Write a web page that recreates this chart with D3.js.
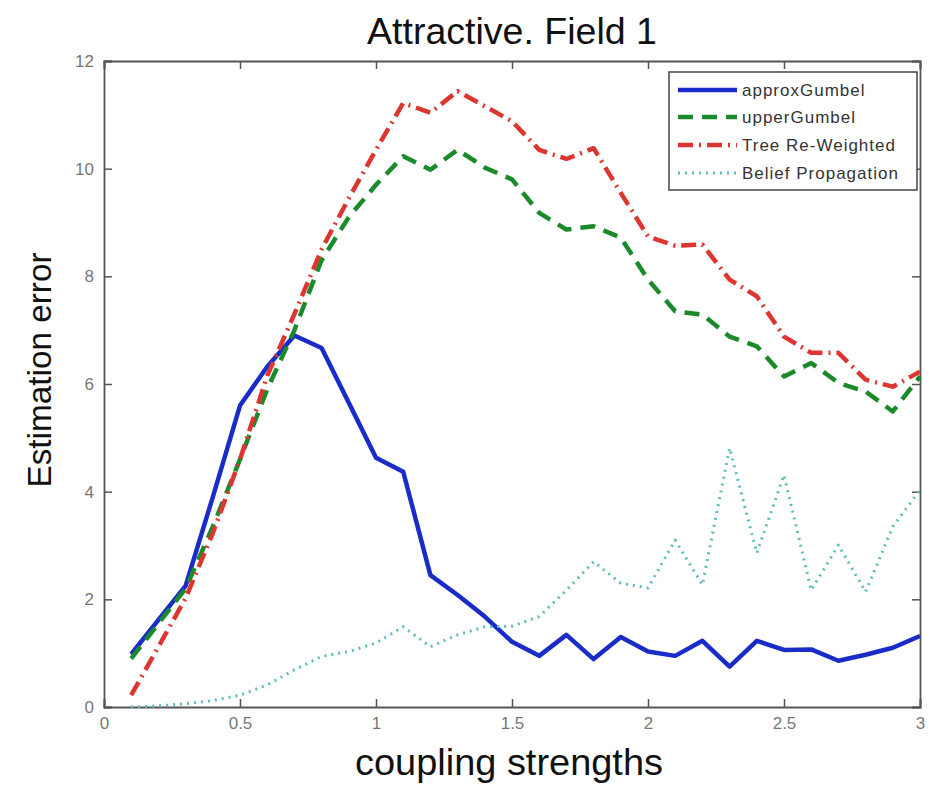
<!DOCTYPE html>
<html>
<head>
<meta charset="utf-8">
<script src="https://cdn.jsdelivr.net/npm/d3@7"></script>
<style>
  html, body { margin: 0; padding: 0; background: #fff; }
  svg { display: block; font-family: "Liberation Sans", Arial, Helvetica, sans-serif; }
</style>
</head>
<body>
<svg id="chart" width="936" height="786"></svg>
<script>
// ---- data ----
const couplings = [0.1, 0.2, 0.3, 0.4, 0.5, 0.6, 0.7, 0.8, 0.9, 1.0,
                   1.1, 1.2, 1.3, 1.4, 1.5, 1.6, 1.7, 1.8, 1.9, 2.0,
                   2.1, 2.2, 2.3, 2.4, 2.5, 2.6, 2.7, 2.8, 2.9, 3.0];
const approxGumbel = [0.98, 1.62, 2.25, 3.9, 5.6, 6.32, 6.9, 6.67, 5.65, 4.63,
                      4.37, 2.45, 2.08, 1.68, 1.21, 0.95, 1.34, 0.89, 1.30, 1.03,
                      0.95, 1.23, 0.75, 1.23, 1.06, 1.07, 0.86, 0.97, 1.10, 1.32];
const upperGumbel = [0.9, 1.55, 2.2, 3.35, 4.6, 5.9, 7.0, 8.3, 9.1, 9.7,
                     10.23, 9.98, 10.35, 10.02, 9.8, 9.18, 8.87, 8.93, 8.72, 7.94,
                     7.35, 7.29, 6.88, 6.7, 6.14, 6.39, 6.02, 5.86, 5.49, 6.14];
const treeReweighted = [0.22, 1.12, 2.02, 3.23, 4.6, 6.15, 7.3, 8.5, 9.45, 10.35,
                        11.22, 11.04, 11.44, 11.16, 10.88, 10.35, 10.18, 10.38, 9.55, 8.74,
                        8.57, 8.59, 7.94, 7.63, 6.88, 6.58, 6.58, 6.08, 5.95, 6.23];
const beliefPropagation = [0.0, 0.02, 0.06, 0.12, 0.22, 0.41, 0.69, 0.94, 1.03, 1.19,
                           1.49, 1.12, 1.34, 1.49, 1.5, 1.68, 2.17, 2.7, 2.3, 2.21,
                           3.1, 2.27, 4.81, 2.86, 4.31, 2.17, 3.01, 2.14, 3.35, 4.03];
const seriesNames = ["approxGumbel", "upperGumbel", "Tree Re-Weighted", "Belief Propagation"];
const xTicks = [0, 0.5, 1, 1.5, 2, 2.5, 3];
const yTicks = [0, 2, 4, 6, 8, 10, 12];
const titleText = "Attractive. Field 1";
const xLabelText = "coupling strengths";
const yLabelText = "Estimation error";

// ---- layout ----
const svg = d3.select("#chart");
const L = 104, R = 920, T = 61, B = 707;
const x = d3.scaleLinear().domain([0, 3]).range([L, R]);
const y = d3.scaleLinear().domain([0, 12]).range([B, T]);

const styles = [
  { color: "#1a2cc8", width: 4.5, dash: null },
  { color: "#1b8a2a", width: 4.5, dash: "15,9" },
  { color: "#dd3530", width: 4.5, dash: "15,6,2,6" },
  { color: "#5fbcbc", width: 3, dash: "2,5" }
];
const allSeries = [approxGumbel, upperGumbel, treeReweighted, beliefPropagation];

// axes box with inward ticks (MATLAB style)
const axisColor = "#555";
const tickLen = 8;
const gBottom = svg.append("g").attr("transform", `translate(0,${B})`)
  .call(d3.axisBottom(x).tickValues(xTicks).tickSize(-tickLen).tickPadding(10).tickFormat(d3.format("")));
const gTop = svg.append("g").attr("transform", `translate(0,${T})`)
  .call(d3.axisTop(x).tickValues(xTicks).tickSize(-tickLen).tickFormat(""));
const gLeft = svg.append("g").attr("transform", `translate(${L},0)`)
  .call(d3.axisLeft(y).tickValues(yTicks).tickSize(-tickLen).tickPadding(10).tickFormat(d3.format("")));
const gRight = svg.append("g").attr("transform", `translate(${R},0)`)
  .call(d3.axisRight(y).tickValues(yTicks).tickSize(-tickLen).tickFormat(""));
[gBottom, gTop, gLeft, gRight].forEach(g => {
  g.select(".domain").attr("stroke", axisColor).attr("stroke-width", 1.8);
  g.selectAll(".tick line").attr("stroke", axisColor).attr("stroke-width", 1.5);
  g.selectAll(".tick text").attr("fill", "#777").attr("font-size", 17)
    .attr("font-family", "Liberation Sans, Arial, sans-serif");
});

// lines
const line = d3.line().x((d, i) => x(couplings[i])).y(d => y(d));
allSeries.forEach((s, k) => {
  svg.append("path")
    .datum(s)
    .attr("fill", "none")
    .attr("stroke", styles[k].color)
    .attr("stroke-width", styles[k].width)
    .attr("stroke-dasharray", styles[k].dash)
    .attr("stroke-linejoin", "round")
    .attr("d", line);
});

// legend
const lg = svg.append("g");
lg.append("rect").attr("x", 669).attr("y", 72).attr("width", 248).attr("height", 118)
  .attr("fill", "#fff").attr("stroke", "#444").attr("stroke-width", 1.5);
const rowY = [90, 117, 145, 173];
seriesNames.forEach((name, k) => {
  lg.append("line").attr("x1", 678).attr("x2", 737).attr("y1", rowY[k]).attr("y2", rowY[k])
    .attr("stroke", styles[k].color).attr("stroke-width", styles[k].width)
    .attr("stroke-dasharray", styles[k].dash);
  lg.append("text").attr("x", 742).attr("y", rowY[k] + 6)
    .attr("font-size", 17).attr("letter-spacing", 1).attr("fill", "#333").text(name);
});

// title & labels
svg.append("text").attr("x", (L + R) / 2).attr("y", 44).attr("text-anchor", "middle")
  .attr("font-size", 36).attr("textLength", 290).attr("lengthAdjust", "spacingAndGlyphs")
  .attr("fill", "#111").text(titleText);
svg.append("text").attr("x", 509).attr("y", 775).attr("text-anchor", "middle")
  .attr("font-size", 37).attr("textLength", 308).attr("lengthAdjust", "spacingAndGlyphs")
  .attr("fill", "#111").text(xLabelText);
svg.append("text").attr("transform", `translate(51,370) rotate(-90)`)
  .attr("text-anchor", "middle").attr("font-size", 33).attr("textLength", 235)
  .attr("lengthAdjust", "spacingAndGlyphs").attr("fill", "#111").text(yLabelText);
</script>
</body>
</html>
